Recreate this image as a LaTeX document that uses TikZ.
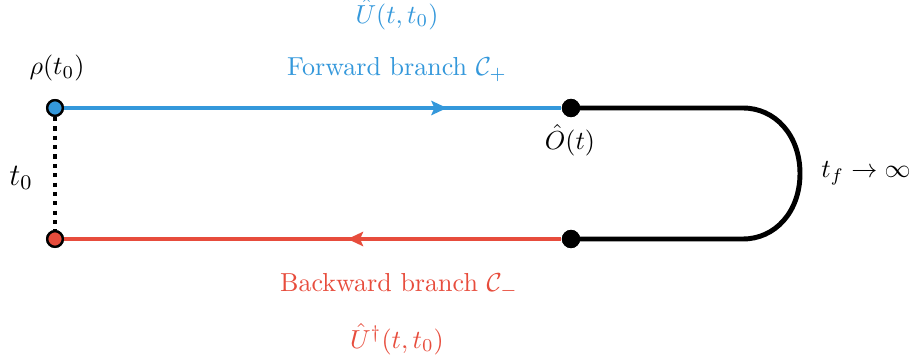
\documentclass[tikz,border=0pt]{standalone}
\usepackage{amsmath}
\usetikzlibrary{arrows.meta,positioning,decorations.markings}

\definecolor{fwdblue}{RGB}{52,152,219}
\definecolor{bwdred}{RGB}{231,76,60}

\begin{document}
\begin{tikzpicture}[
  x=0.01351cm, y=-0.01351cm,
  endpt/.style={circle, draw=black, line width=0.9pt, inner sep=0pt, minimum size=6pt},
  opdot/.style={circle, fill=black, inner sep=0pt, minimum size=7pt},
  branch/.style={line width=1.9pt},
  midarrow/.style={postaction={decorate, decoration={markings,
    mark=at position #1 with {\arrow{Stealth[length=6pt,width=5.5pt,inset=1.2pt]}}}}},
]
  \useasboundingbox (0,0) rectangle (916,360);

  % ends of the contour
  \node[endpt, fill=fwdblue] (rhotop) at (55,108) {};
  \node[endpt, fill=bwdred] (rhobot) at (55,239) {};
  \node[opdot] (optop) at (571,108) {};
  \node[opdot] (opbot) at (571,239) {};
  \coordinate (turnA) at (743,108);
  \coordinate (turnB) at (743,239);

  % branches
  \draw[branch, fwdblue, midarrow=0.77] (rhotop) -- (optop);
  \draw[branch, bwdred, midarrow=0.43] (opbot) -- (rhobot);
  \draw[branch] (optop.center) -- (turnA)
    .. controls (775,108) and (800,135) .. (800,173.5)
    .. controls (800,212) and (775,239) .. (turnB) -- (opbot.center);
  \draw[line width=1.6pt, dotted] (rhotop) -- (rhobot);
  \node[endpt, fill=fwdblue] at (rhotop) {};
  \node[endpt, fill=bwdred] at (rhobot) {};
  \node[opdot] at (optop) {};
  \node[opdot] at (opbot) {};

  % labels
  \node (rholab) at (57,68) {$\rho(t_0)$};
  \node[font=\large] (tzero) at (21,178) {$t_0$};
  \node (oplab) at (570,140) {$\hat{O}(t)$};
  \node (tflab) at (866,173) {$t_f \to \infty$};
  \node[text=fwdblue] (fwdlab) at (397,70) {Forward branch $\mathcal{C}_+$};
  \node[text=fwdblue] (fwdop) at (397,14) {$\hat{U}(t,t_0)$};
  \node[text=bwdred] (bwdlab) at (399,286) {Backward branch $\mathcal{C}_-$};
  \node[text=bwdred] (bwdop) at (397,339) {$\hat{U}^\dagger(t,t_0)$};
\end{tikzpicture}
\end{document}
